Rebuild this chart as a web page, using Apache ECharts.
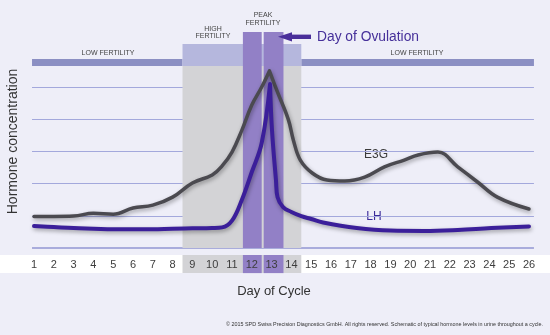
<!DOCTYPE html>
<html>
<head>
<meta charset="utf-8">
<script src="https://cdn.jsdelivr.net/npm/echarts@6/dist/echarts.min.js"></script>
<style>
html,body{margin:0;padding:0;background:#eeeef8;}
#chart{width:550px;height:335px;}
</style>
</head>
<body>
<div id="chart"></div>
<script>
// ---- data (day of cycle, arbitrary hormone units) ----
const dayTicks = [1,2,3,4,5,6,7,8,9,10,11,12,13,14,15,16,17,18,19,20,21,22,23,24,25,26];

const e3gDays   = [1, 2, 3, 4, 5, 6, 7, 8, 9, 10, 10.5, 11, 11.5, 12, 12.5, 12.89, 13.3, 13.85, 14.1, 14.45, 15.05, 15.8, 16.7, 17.7, 18.7, 19.7, 20.4, 21.4, 22.4, 23.4, 24.4, 26];
const e3gValues = [0.98, 0.98, 0.99, 1.08, 1.05, 1.24, 1.33, 1.58, 2.02, 2.27, 2.55, 2.98, 3.66, 4.44, 5.0, 5.50, 4.84, 3.98, 3.35, 2.73, 2.33, 2.11, 2.08, 2.2, 2.52, 2.73, 2.89, 2.98, 2.52, 2.05, 1.58, 1.21];
const e3gPeakIndex = 15;

const lhDays   = [1, 2, 3, 4, 5, 6, 7, 8, 9, 10, 10.5, 11, 11.5, 12, 12.5, 12.92, 13.02, 13.22, 13.3, 13.58, 14, 14.5, 15, 15.6, 17.3, 19, 20.7, 22.4, 24.1, 26];
const lhValues = [0.68, 0.65, 0.62, 0.6, 0.58, 0.58, 0.58, 0.6, 0.61, 0.62, 0.64, 0.85, 1.5, 2.36, 3.26, 5.09, 3.66, 2.11, 1.58, 1.27, 1.12, 0.99, 0.9, 0.79, 0.62, 0.54, 0.53, 0.56, 0.62, 0.67];
const lhPeakIndex = 15;

const gridValues = [1, 2, 3, 4, 5];
const phaseLabels = ['LOW FERTILITY', 'HIGH\nFERTILITY', 'PEAK\nFERTILITY', 'LOW FERTILITY'];

// ---- layout constants ----
const X_MIN = -0.7172, X_MAX = 27.0606;
const Y_MIN = -2.7019, Y_MAX = 7.7019;
const LINE_START = 0.9, LINE_END = 26.25;
const BAND_TOP = 5.652, LOWBAR_TOP = 5.870, HIGH_TOP = 6.335, PEAK_TOP = 6.708;
const STRIP_TOP = -0.217, STRIP_BOTTOM = -0.78;

const C_GREY = '#d3d3d6', C_PURPLE = '#9280c6', C_LAV = '#b5b7dd', C_LOW = '#8b8fc3';

function area(x0, x1, y0, y1, color) {
  return [{xAxis: x0, yAxis: y0, itemStyle: {color: color, opacity: 1}}, {xAxis: x1, yAxis: y1}];
}
// split a curve at its peak so the peak stays a sharp corner
function curve(days, values, peak) {
  const out = [];
  days.forEach((d, i) => {
    out.push([d, values[i]]);
    if (i === peak) { out.push([d, '-']); out.push([d, values[i]]); }
  });
  return out;
}

const gridLines = gridValues.map(v => [{coord: [LINE_START, v]}, {coord: [LINE_END, v]}]);
gridLines.push([{coord: [LINE_START, 0], lineStyle: {width: 2.2, color: '#a9acdc'}}, {coord: [LINE_END, 0]}]);

const bands = [
  area(X_MIN, X_MAX, STRIP_TOP, STRIP_BOTTOM, '#ffffff'),
  area(8.5, 14.5, STRIP_TOP, STRIP_BOTTOM, C_GREY),
  area(11.55, 12.5, STRIP_TOP, STRIP_BOTTOM, C_PURPLE),
  area(12.6, 13.6, STRIP_TOP, STRIP_BOTTOM, C_PURPLE),
  area(LINE_START, 8.5, BAND_TOP, LOWBAR_TOP, C_LOW),
  area(14.5, LINE_END, BAND_TOP, LOWBAR_TOP, C_LOW),
  area(8.5, 14.5, 0, BAND_TOP, C_GREY),
  area(8.5, 14.5, BAND_TOP, HIGH_TOP, C_LAV),
  area(11.55, 12.5, 0, PEAK_TOP, C_PURPLE),
  area(12.6, 13.6, 0, PEAK_TOP, C_PURPLE)
];

const chart = echarts.init(document.getElementById('chart'), null, {renderer: 'canvas'});
const txt = '#444';
chart.setOption({
  backgroundColor: '#eeeef8',
  animation: false,
  tooltip: {show: false},
  grid: {left: 0, right: 0, top: 0, bottom: 0},
  xAxis: {
    type: 'value', min: X_MIN, max: X_MAX, z: 20,
    axisLine: {show: false}, axisTick: {show: false}, splitLine: {show: false},
    axisLabel: {
      customValues: dayTicks, margin: -76, color: '#3d3d3d', fontSize: 11,
      fontFamily: 'Liberation Sans, Arial, sans-serif'
    }
  },
  yAxis: {type: 'value', min: Y_MIN, max: Y_MAX, show: false},
  series: [
    {
      type: 'line', data: [], silent: true, z: 1,
      markLine: {
        z: 1, silent: true, symbol: 'none', label: {show: false},
        lineStyle: {color: '#a3a8dc', width: 1, type: 'solid'},
        data: gridLines
      },
      markArea: {z: 2, silent: true, label: {show: false}, data: bands}
    },
    {
      name: 'E3G', type: 'line', z: 4, smooth: 0.4, symbol: 'none', silent: true,
      data: curve(e3gDays, e3gValues, e3gPeakIndex),
      lineStyle: {color: '#4b4a50', width: 3.5, cap: 'round', join: 'round',
        shadowColor: 'rgba(0,0,0,0.35)', shadowBlur: 4, shadowOffsetX: 1, shadowOffsetY: 2}
    },
    {
      name: 'LH', type: 'line', z: 5, smooth: 0.4, symbol: 'none', silent: true,
      data: curve(lhDays, lhValues, lhPeakIndex),
      lineStyle: {color: '#3b1f9a', width: 4, cap: 'round', join: 'round',
        shadowColor: 'rgba(0,0,0,0.35)', shadowBlur: 4, shadowOffsetX: 1, shadowOffsetY: 2}
    }
  ],
  graphic: [
    {type: 'text', x: 108, y: 53, style: {text: phaseLabels[0], font: '7px Liberation Sans, Arial', fill: txt, align: 'center', verticalAlign: 'middle'}},
    {type: 'text', x: 213, y: 32.5, style: {text: phaseLabels[1], font: '7px Liberation Sans, Arial', fill: txt, align: 'center', verticalAlign: 'middle', lineHeight: 7.5}},
    {type: 'text', x: 263, y: 19, style: {text: phaseLabels[2], font: '7px Liberation Sans, Arial', fill: txt, align: 'center', verticalAlign: 'middle', lineHeight: 8}},
    {type: 'text', x: 417, y: 53, style: {text: phaseLabels[3], font: '7px Liberation Sans, Arial', fill: txt, align: 'center', verticalAlign: 'middle'}},
    {type: 'polygon', z: 10, shape: {points: [[278, 36.8], [292, 32.2], [292, 41.4]]}, style: {fill: '#4a2f9a'}},
    {type: 'rect', z: 10, shape: {x: 290, y: 34.6, width: 21, height: 4.4}, style: {fill: '#4a2f9a'}},
    {type: 'text', z: 10, x: 317, y: 37, style: {text: 'Day of Ovulation', font: '13.8px Liberation Sans, Arial', fill: '#46309a', align: 'left', verticalAlign: 'middle'}},
    {type: 'text', x: 376, y: 155, style: {text: 'E3G', font: '12px Liberation Sans, Arial', fill: '#3a3a3a', align: 'center', verticalAlign: 'middle'}},
    {type: 'text', x: 374, y: 217, style: {text: 'LH', font: '12px Liberation Sans, Arial', fill: '#3b2a9a', align: 'center', verticalAlign: 'middle'}},
    {type: 'text', x: 13.5, y: 141.5, rotation: Math.PI / 2, style: {text: 'Hormone concentration', font: '14px Liberation Sans, Arial', fill: '#333', align: 'center', verticalAlign: 'middle'}},
    {type: 'text', x: 274, y: 291.5, style: {text: 'Day of Cycle', font: '13px Liberation Sans, Arial', fill: '#333', align: 'center', verticalAlign: 'middle'}},
    {type: 'text', x: 226, y: 325, style: {text: '\u00a9 2015 SPD Swiss Precision Diagnostics GmbH. All rights reserved. Schematic of typical hormone levels in urine throughout a cycle.', font: '5.4px Liberation Sans, Arial', fill: '#333', align: 'left', verticalAlign: 'middle'}}
  ]
});
</script>
</body>
</html>
